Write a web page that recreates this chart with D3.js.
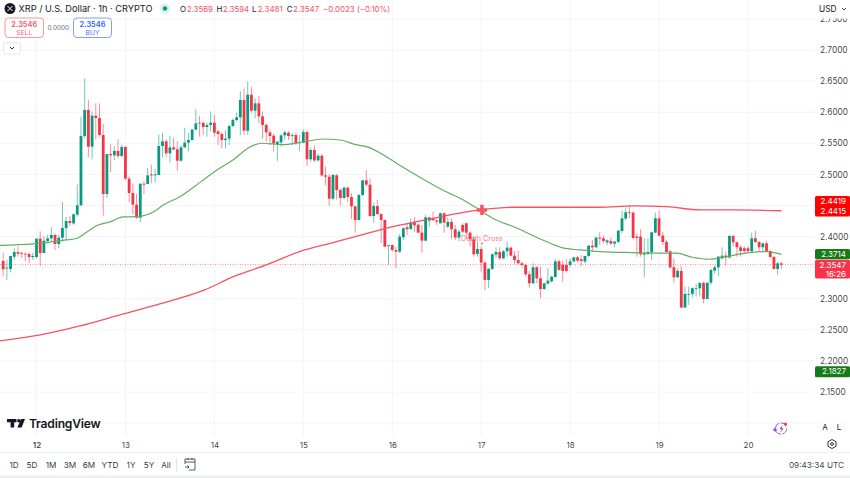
<!DOCTYPE html>
<html><head><meta charset="utf-8">
<script src="https://cdnjs.cloudflare.com/ajax/libs/d3/7.8.5/d3.min.js"></script>
<style>
html,body{margin:0;padding:0;background:#fff;overflow:hidden}
svg{display:block}
text{font-family:Inter,"Noto Sans",sans-serif}
</style></head><body><svg id="c" width="850" height="478"></svg>
<script>
const firstHour = -9;
const opens = [
2.3607,2.3489,2.3478,2.3676,2.3751,2.3735,2.3725,2.3719,2.3671,2.3671,
2.3966,2.3735,2.3928,2.3971,2.4025,2.3880,2.3982,2.4137,2.4250,2.4212,
2.4352,2.4502,2.5617,2.6035,2.5445,2.5944,2.5906,2.5633,2.4684,2.5327,
2.5306,2.5376,2.5295,2.5440,2.4931,2.4700,2.4513,2.4304,2.4850,2.4845,
2.5000,2.4984,2.4990,2.5456,2.5531,2.5338,2.5434,2.5402,2.5220,2.5434,
2.5510,2.5552,2.5719,2.5831,2.5831,2.5761,2.5794,2.5831,2.5692,2.5649,
2.5552,2.5574,2.5778,2.5874,2.5917,2.6196,2.5702,2.6281,2.6024,2.6142,
2.5933,2.5794,2.5676,2.5622,2.5488,2.5515,2.5627,2.5670,2.5627,2.5633,
2.5504,2.5510,2.5681,2.5242,2.5392,2.5225,2.5300,2.4984,2.4963,2.4609,
2.4984,2.4748,2.4620,2.4786,2.4636,2.4486,2.4266,2.4668,2.4904,2.4834,
2.4330,2.4491,2.4362,2.4266,2.3853,2.3864,2.3784,2.3757,2.3988,2.4149,
2.4122,2.4229,2.4191,2.4063,2.3934,2.4256,2.4293,2.4261,2.4213,2.4374,
2.4159,2.4234,2.4117,2.3983,2.4186,2.4213,2.4063,2.3956,2.3720,2.3800,
2.3581,2.3302,2.3479,2.3709,2.3752,2.3650,2.3763,2.3822,2.3693,2.3623,
2.3570,2.3543,2.3393,2.3248,2.3505,2.3329,2.3157,2.3243,2.3280,2.3350,
2.3602,2.3548,2.3543,2.3543,2.3602,2.3666,2.3634,2.3597,2.3688,2.3854,
2.3827,2.3983,2.3972,2.3907,2.3929,2.3886,2.3913,2.4090,2.4288,2.4395,
2.4385,2.3999,2.3999,2.3709,2.3720,2.3747,2.4063,2.4293,2.4015,2.3913,
2.3763,2.3505,2.3345,2.3447,2.2857,2.3066,2.3077,2.3163,2.3168,2.3254,
2.2996,2.3259,2.3452,2.3505,2.3650,2.3693,2.3661,2.4009,2.3907,2.3827,
2.3811,2.3811,2.3763,2.3972,2.3913,2.3827,2.3891,2.3768,2.3672,2.3479,
2.3569];
const highs = [
2.3741,2.3623,2.3687,2.3810,2.3837,2.3757,2.3741,2.3741,2.3741,2.3966,
2.4084,2.4009,2.4025,2.4153,2.4052,2.4025,2.4555,2.4320,2.4330,2.4373,
2.4840,2.5928,2.6544,2.6196,2.6013,2.6142,2.6142,2.5810,2.5327,2.5488,
2.5456,2.5563,2.5478,2.5456,2.4963,2.4856,2.4684,2.4850,2.4893,2.5102,
2.5156,2.5086,2.5638,2.5665,2.5563,2.5617,2.5590,2.5531,2.5472,2.5751,
2.5670,2.5735,2.6051,2.5938,2.5847,2.5831,2.6013,2.5954,2.5713,2.5686,
2.5713,2.5794,2.5901,2.5992,2.6340,2.6383,2.6496,2.6410,2.6222,2.6260,
2.6008,2.5820,2.5724,2.5660,2.5526,2.5649,2.5702,2.5692,2.5660,2.5670,
2.5633,2.5724,2.5702,2.5434,2.5467,2.5338,2.5327,2.5124,2.5006,2.5006,
2.5006,2.4775,2.4802,2.4802,2.4695,2.4491,2.4684,2.4904,2.5070,2.4936,
2.4545,2.4588,2.4373,2.4270,2.3864,2.3864,2.3837,2.4041,2.4149,2.4213,
2.4293,2.4309,2.4213,2.4186,2.4347,2.4309,2.4401,2.4277,2.4385,2.4385,
2.4309,2.4293,2.4186,2.4106,2.4213,2.4224,2.4084,2.3999,2.3918,2.3838,
2.3597,2.3484,2.3731,2.3827,2.3827,2.3784,2.3918,2.3838,2.3768,2.3773,
2.3597,2.3559,2.3447,2.3570,2.3527,2.3516,2.3248,2.3489,2.3366,2.3634,
2.3634,2.3623,2.3634,2.3650,2.3677,2.3688,2.3704,2.3688,2.3865,2.3945,
2.3999,2.4068,2.4009,2.3956,2.3983,2.3929,2.4106,2.4417,2.4470,2.4508,
2.4395,2.4052,2.4117,2.3972,2.3972,2.4079,2.4385,2.4417,2.4079,2.3945,
2.3784,2.3650,2.3489,2.3527,2.3195,2.3195,2.3184,2.3237,2.3264,2.3275,
2.3259,2.3484,2.3543,2.3688,2.3827,2.3757,2.4025,2.4020,2.3924,2.3865,
2.3838,2.3849,2.4063,2.4095,2.3929,2.3902,2.3934,2.3784,2.3688,2.3591,
2.3594];
const lows = [
2.3355,2.3301,2.3424,2.3623,2.3676,2.3650,2.3607,2.3569,2.3623,2.3650,
2.3532,2.3735,2.3891,2.3918,2.3784,2.3810,2.3918,2.3944,2.4170,2.4186,
2.4320,2.4502,2.5579,2.5274,2.5242,2.5563,2.5606,2.4336,2.4620,2.5038,
2.5231,2.5258,2.5274,2.4909,2.4555,2.4362,2.4287,2.4228,2.4684,2.4845,
2.4856,2.4866,2.4990,2.5274,2.5274,2.5188,2.5392,2.5054,2.5204,2.5434,
2.5365,2.5552,2.5713,2.5606,2.5633,2.5606,2.5686,2.5606,2.5472,2.5418,
2.5418,2.5472,2.5756,2.5847,2.5633,2.5633,2.5633,2.5981,2.5901,2.5820,
2.5579,2.5526,2.5472,2.5365,2.5215,2.5445,2.5552,2.5552,2.5472,2.5472,
2.5376,2.5499,2.5134,2.5204,2.5199,2.5204,2.4963,2.4829,2.4496,2.4588,
2.4598,2.4496,2.4598,2.4555,2.4282,2.4062,2.4255,2.4652,2.4802,2.4320,
2.4223,2.4346,2.3891,2.3830,2.3542,2.3757,2.3489,2.3730,2.3945,2.4025,
2.4106,2.4079,2.4052,2.3741,2.3918,2.4159,2.4256,2.4186,2.4213,2.4063,
2.4133,2.3956,2.3945,2.3918,2.4052,2.3972,2.3838,2.3677,2.3677,2.3436,
2.3141,2.3168,2.3463,2.3650,2.3623,2.3634,2.3677,2.3677,2.3559,2.3543,
2.3505,2.3355,2.3179,2.3232,2.3248,2.3007,2.3141,2.3232,2.3259,2.3339,
2.3452,2.3275,2.3420,2.3505,2.3581,2.3591,2.3527,2.3570,2.3666,2.3757,
2.3811,2.3865,2.3891,2.3865,2.3865,2.3827,2.3891,2.4052,2.4267,2.4293,
2.3966,2.3677,2.3677,2.3345,2.3704,2.3623,2.4052,2.3999,2.3865,2.3741,
2.3489,2.3248,2.3329,2.2857,2.2857,2.2900,2.3023,2.3034,2.3034,2.2927,
2.2991,2.3221,2.3409,2.3366,2.3634,2.3527,2.3650,2.3838,2.3677,2.3677,
2.3731,2.3741,2.3752,2.3891,2.3757,2.3757,2.3757,2.3650,2.3473,2.3382,
2.3481];
const closes = [
2.3473,2.3500,2.3687,2.3751,2.3725,2.3725,2.3714,2.3671,2.3687,2.3966,
2.3735,2.3934,2.3971,2.4025,2.3880,2.3982,2.4137,2.4250,2.4218,2.4357,
2.4502,2.5617,2.6035,2.5445,2.5944,2.5906,2.5633,2.4684,2.5327,2.5306,
2.5376,2.5295,2.5440,2.4931,2.4700,2.4513,2.4304,2.4850,2.4834,2.4984,
2.4984,2.5000,2.5456,2.5531,2.5338,2.5434,2.5402,2.5220,2.5434,2.5510,
2.5552,2.5719,2.5820,2.5820,2.5761,2.5794,2.5831,2.5670,2.5649,2.5552,
2.5574,2.5778,2.5874,2.5917,2.6196,2.5702,2.6281,2.6024,2.6142,2.5933,
2.5794,2.5676,2.5617,2.5499,2.5526,2.5627,2.5676,2.5617,2.5633,2.5499,
2.5520,2.5681,2.5242,2.5392,2.5225,2.5300,2.4984,2.4963,2.4609,2.4990,
2.4748,2.4620,2.4786,2.4636,2.4486,2.4266,2.4668,2.4904,2.4834,2.4330,
2.4491,2.4362,2.4266,2.3837,2.3864,2.3784,2.3757,2.3998,2.4133,2.4117,
2.4224,2.4181,2.4063,2.3934,2.4309,2.4309,2.4261,2.4240,2.4374,2.4224,
2.4234,2.4117,2.3983,2.4079,2.4079,2.4063,2.3956,2.3715,2.3800,2.3581,
2.3302,2.3484,2.3715,2.3752,2.3650,2.3763,2.3822,2.3693,2.3623,2.3570,
2.3543,2.3393,2.3248,2.3505,2.3329,2.3157,2.3248,2.3291,2.3355,2.3602,
2.3463,2.3447,2.3447,2.3602,2.3666,2.3613,2.3607,2.3688,2.3854,2.3827,
2.3983,2.3966,2.3929,2.3940,2.3886,2.3918,2.4095,2.4293,2.4390,2.4385,
2.3977,2.3977,2.3715,2.3731,2.3752,2.4068,2.4293,2.4015,2.3913,2.3752,
2.3505,2.3345,2.3447,2.2857,2.3077,2.3077,2.3168,2.3173,2.3254,2.2996,
2.3259,2.3463,2.3505,2.3677,2.3693,2.3661,2.4009,2.3907,2.3827,2.3768,
2.3768,2.3768,2.3972,2.3913,2.3827,2.3891,2.3768,2.3672,2.3479,2.3569,
2.3547];

const fastHours = [-10,-1,8,11,13.6,16.6,19.8,23.4,27,32,34.2,38.7,44,48.7,53,57.6,60.8,66.5,71,77.3,81.9,86.4,89,92.6,98,109.6,116,119.6,123,129.6,136.6,142,146.6,152,160.8,168,172.7,177,181.6,186,192.4,197,201];
const fastMA = [2.3857,2.3881,2.3945,2.3973,2.4074,2.4186,2.4235,2.4315,2.4320,2.4412,2.4508,2.4641,2.4867,2.5071,2.5232,2.5441,2.5500,2.5478,2.5510,2.5569,2.5553,2.5473,2.5445,2.5349,2.5146,2.4749,2.4561,2.4428,2.4299,2.4138,2.3945,2.3817,2.3785,2.3757,2.3741,2.3732,2.3732,2.3667,2.3635,2.3677,2.3741,2.3757,2.3714];
const slowHours = [-10,1,11.7,22.5,33.3,45.4,53,62,71,80,89,98,107,119.6,128.5,152,161,170,179,188,201];
const slowMA = [2.2322,2.2418,2.2563,2.2740,2.2916,2.3141,2.3350,2.3543,2.3757,2.3902,2.4047,2.4182,2.4294,2.4428,2.4471,2.4471,2.4492,2.4481,2.4428,2.4428,2.4415];

const priceTicks = [2.75,2.70,2.65,2.60,2.55,2.50,2.45,2.40,2.35,2.30,2.25,2.20,2.15,2.10];
const priceLabels = ["2.7500","2.7000","2.6500","2.6000","2.5500","2.5000","2.4000","2.3000","2.2500","2.2000","2.1500"];
const dayHours = [0,24,48,72,96,120,144,168,192];
const dayLabels = ["12","13","14","15","16","17","18","19","20"];
const rangeButtons = ["1D","5D","1M","3M","6M","YTD","1Y","5Y","All"];
const title = "XRP / U.S. Dollar · 1h · CRYPTO";
const ohlcLetters = ["O","H","L","C"];
const ohlcValues = ["2.3569","2.3594","2.3481","2.3547"];
const changeText = "−0.0023 (−0.10%)";
const lastPrice = 2.3547, stopPrice = 2.1827, crossHour = 120.2, crossPrice = 2.4428;
const tagsRed = ["2.4419","2.4415"], tagFast = "2.3714", tagLast = "2.3547", tagCountdown = "16:26", tagLow = "2.1827";
const sellPrice = "2.3546", buyPrice = "2.3546", spread = "0.0000", clock = "09:43:34 UTC";

const green = "#089981", red = "#f23645", ink = "#131722", gridC = "#f3f4f6";
const svg = d3.select("#c");
const x = d3.scaleLinear().domain([0,192]).range([36.5,748]);
const y = d3.scaleLinear().domain([2.7,2.15]).range([50,392]);
const plotRight = 815, plotBottom = 436;

// grid
const grid = svg.append("g");
grid.selectAll("line.v").data(dayHours).join("line").attr("x1",d=>x(d)).attr("x2",d=>x(d)).attr("y1",0).attr("y2",plotBottom).attr("stroke",gridC);
grid.selectAll("line.h").data(priceTicks).join("line").attr("class","h").attr("x1",0).attr("x2",plotRight).attr("y1",d=>y(d)).attr("y2",d=>y(d)).attr("stroke",gridC);

// y axis
const yAxis = d3.axisRight(y).tickValues(priceLabels.map(Number)).tickSize(0).tickPadding(0).tickFormat(d3.format(".4f"));
const gy = svg.append("g").attr("transform","translate(820,0)").call(yAxis);
gy.select(".domain").remove();
gy.selectAll("text").attr("font-size",8.3).attr("fill",ink).attr("fill-opacity",.85).style("font-family","Inter");
// x axis
const xAxis = d3.axisBottom(x).tickValues(dayHours).tickSize(0).tickPadding(0).tickFormat((d,i)=>dayLabels[i]);
const gx = svg.append("g").attr("transform","translate(0,442)").call(xAxis);
gx.select(".domain").remove();
gx.selectAll("text").attr("font-size",8).attr("fill",ink).attr("fill-opacity",.85).attr("font-weight",(d,i)=>i==0?600:400).style("font-family","Inter");

// last price dotted
svg.append("line").attr("x1",0).attr("x2",plotRight).attr("y1",y(lastPrice)).attr("y2",y(lastPrice)).attr("stroke",red).attr("stroke-opacity",.75).attr("stroke-width",.8).attr("stroke-dasharray","1 1.5");

// candles
const candles = opens.map((o,i)=>({h:firstHour+i,o,hi:highs[i],lo:lows[i],c:closes[i]}));
const col = d=>d.c>=d.o?green:red;
const cg = svg.append("g");
cg.selectAll("line").data(candles).join("line")
 .attr("x1",d=>x(d.h)).attr("x2",d=>x(d.h)).attr("y1",d=>y(d.hi)).attr("y2",d=>y(d.lo))
 .attr("stroke",col).attr("stroke-width",.75).attr("stroke-opacity",.75);
cg.selectAll("rect").data(candles).join("rect")
 .attr("x",d=>x(d.h)-1.4).attr("width",2.8)
 .attr("y",d=>y(Math.max(d.o,d.c))).attr("height",d=>Math.max(.8,y(Math.min(d.o,d.c))-y(Math.max(d.o,d.c))))
 .attr("fill",col);

// MAs
const lineGen = d3.line().curve(d3.curveMonotoneX);
svg.append("path").attr("d",lineGen(slowHours.map((h,i)=>[x(h),y(slowMA[i])]))).attr("fill","none").attr("stroke","#f7525f").attr("stroke-width",1.3);
svg.append("path").attr("d",lineGen(fastHours.map((h,i)=>[x(h),y(fastMA[i])]))).attr("fill","none").attr("stroke","#63ad64").attr("stroke-width",1.2);

// cross marker
const cx=x(crossHour), cy=y(crossPrice);
svg.append("path").attr("d",d3.symbol(d3.symbolCross,58)()).attr("transform",`translate(${cx},${cy})`).attr("fill","#f7525f");
svg.append("text").attr("x",cx).attr("y",240.5).attr("text-anchor","middle").attr("font-size",7.2).attr("fill","#f7525f").attr("fill-opacity",.8).text("Death Cross");
svg.append("circle").attr("cx",cx).attr("cy",243.5).attr("r",.9).attr("fill","#f7525f");

// right tags
function tag(top,h,fill,lines,step){
  svg.append("rect").attr("x",815).attr("y",top).attr("width",35).attr("height",h).attr("rx",1.5).attr("fill",fill);
  lines.forEach((t,i)=>svg.append("text").attr("x",846).attr("y",top+7.9+i*step).attr("text-anchor","end").attr("font-size",8).attr("fill","#fff").text(t));
}
tag(196,20.6,"#ff0000",tagsRed,9.9);
tag(y(stopPrice)-5.5,11,"#167a16",[tagLow],0);
tag(249,10.2,"#167a16",[tagFast],0);
tag(259.8,18.6,"#f7334b",[tagLast,tagCountdown],9.6);

// USD button
svg.append("rect").attr("x",815).attr("y",0).attr("width",35).attr("height",18.5).attr("fill","#fff");
svg.append("text").attr("x",819).attr("y",12).attr("font-size",8.3).attr("fill",ink).text("USD");
svg.append("path").attr("d","M842 8l2 2 2-2").attr("fill","none").attr("stroke",ink).attr("stroke-width",.8);

// header
svg.append("circle").attr("cx",10).attr("cy",8.5).attr("r",5.5).attr("fill",ink);
svg.append("path").attr("d","M7.5 6l5 5M12.5 6l-5 5").attr("stroke","#fff").attr("stroke-width",1);
svg.append("text").attr("x",18.5).attr("y",12.3).attr("font-size",9.2).attr("fill",ink).text(title);
svg.append("circle").attr("cx",165).attr("cy",8.5).attr("r",5.2).attr("fill",green).attr("fill-opacity",.13);
svg.append("circle").attr("cx",165).attr("cy",8.5).attr("r",2.2).attr("fill",green);
const lx=[180,216.5,252,286.7], vx=[186.7,222.7,257.7,293];
ohlcLetters.forEach((t,i)=>{
 svg.append("text").attr("x",lx[i]).attr("y",11.8).attr("font-size",7.9).attr("fill",ink).text(t);
 svg.append("text").attr("x",vx[i]).attr("y",11.8).attr("font-size",7.9).attr("fill","#f7525f").text(ohlcValues[i]);
});
svg.append("text").attr("x",323).attr("y",11.8).attr("font-size",7.9).attr("fill","#f7525f").text(changeText);

// sell / buy
function btn(x0,w,c,price,lab){
 svg.append("rect").attr("x",x0).attr("y",18).attr("width",w).attr("height",19.5).attr("rx",3.5).attr("fill","#fff").attr("stroke",c).attr("stroke-opacity",.6);
 svg.append("text").attr("x",x0+w/2).attr("y",27).attr("text-anchor","middle").attr("font-size",7.4).attr("font-weight",600).attr("fill",c).text(price);
 svg.append("text").attr("x",x0+w/2).attr("y",35).attr("text-anchor","middle").attr("font-size",6.8).attr("fill",c).attr("fill-opacity",.9).text(lab);
}
btn(5,38.5,"#f7525f",sellPrice,"SELL");
btn(73.5,38,"#2962ff",buyPrice,"BUY");
svg.append("text").attr("x",58.3).attr("y",30.3).attr("text-anchor","middle").attr("font-size",6.4).attr("fill","#6a6d78").text(spread);
svg.append("rect").attr("x",3.5).attr("y",42.5).attr("width",17).attr("height",11.5).attr("rx",2).attr("fill","#fff").attr("stroke","#e6e8ec");
svg.append("path").attr("d","M10 47l2 2 2-2").attr("fill","none").attr("stroke",ink).attr("stroke-width",.9);

// logo
svg.append("path").attr("d","M7 419h9.5v3.2h-2.3v5.3h-3.6v-5.3H7zM21 419h4l-3.4 8.5h-4.2z").attr("fill",ink);
svg.append("circle").attr("cx",18.8).attr("cy",420.7).attr("r",1.7).attr("fill",ink);
svg.append("text").attr("x",29).attr("y",428).attr("font-size",12.1).attr("font-weight",600).attr("letter-spacing",-.2).attr("fill",ink).text("TradingView");

// A / L buttons, icons
[["A",825],["L",839]].forEach(([t,cxx])=>{
 svg.append("rect").attr("x",cxx-6).attr("y",421).attr("width",12).attr("height",11).attr("rx",2).attr("fill","#fff").attr("stroke","#f0f3fa").attr("stroke-width",.6);
 svg.append("text").attr("x",cxx).attr("y",430).attr("text-anchor","middle").attr("font-size",8).attr("fill",ink).text(t);
});
svg.append("path").attr("d","M832 439.5l4 2.2v4.6l-4 2.2-4-2.2v-4.6z").attr("fill","none").attr("stroke",ink).attr("stroke-width",.9);
svg.append("circle").attr("cx",832).attr("cy",444).attr("r",1.4).attr("fill","none").attr("stroke",ink).attr("stroke-width",.9);
svg.append("circle").attr("cx",781).attr("cy",428.5).attr("r",5.6).attr("fill","none").attr("stroke","#b34fd1").attr("stroke-width",1).attr("stroke-dasharray","7 1.5");
svg.append("path").attr("d","M782.5 425l-3 4h2l-1 3.5 3-4.3h-2z").attr("fill","#a52fc9");
svg.append("circle").attr("cx",785.5).attr("cy",424).attr("r",1.5).attr("fill","#f23645");
svg.append("path").attr("d","M775 427l.8 2 2 .8-2 .8-.8 2-.8-2-2-.8 2-.8z").attr("fill","#6a4dff");

// bottom toolbar
svg.append("line").attr("x1",0).attr("x2",850).attr("y1",452.5).attr("y2",452.5).attr("stroke","#eef0f3");
svg.append("rect").attr("x",0).attr("y",475.5).attr("width",850).attr("height",2.5).attr("fill","#eceef1");
const bx=[14,32,51,70,89,110,131,149,166];
rangeButtons.forEach((t,i)=>svg.append("text").attr("x",bx[i]).attr("y",468).attr("text-anchor","middle").attr("font-size",8.2).attr("fill",ink).attr("fill-opacity",.9).text(t));
svg.append("line").attr("x1",176.5).attr("x2",176.5).attr("y1",458).attr("y2",471).attr("stroke","#e0e3eb");
svg.append("path").attr("d","M185 464v-5h10v11h-6M185 462h10M188 458v2M192 458v2M185 467h4M187.5 465.5l1.5 1.5-1.5 1.5").attr("fill","none").attr("stroke",ink).attr("stroke-width",.7);
svg.append("text").attr("x",844).attr("y",468).attr("text-anchor","end").attr("font-size",8.2).attr("fill",ink).attr("fill-opacity",.85).text(clock);
</script></body></html>
